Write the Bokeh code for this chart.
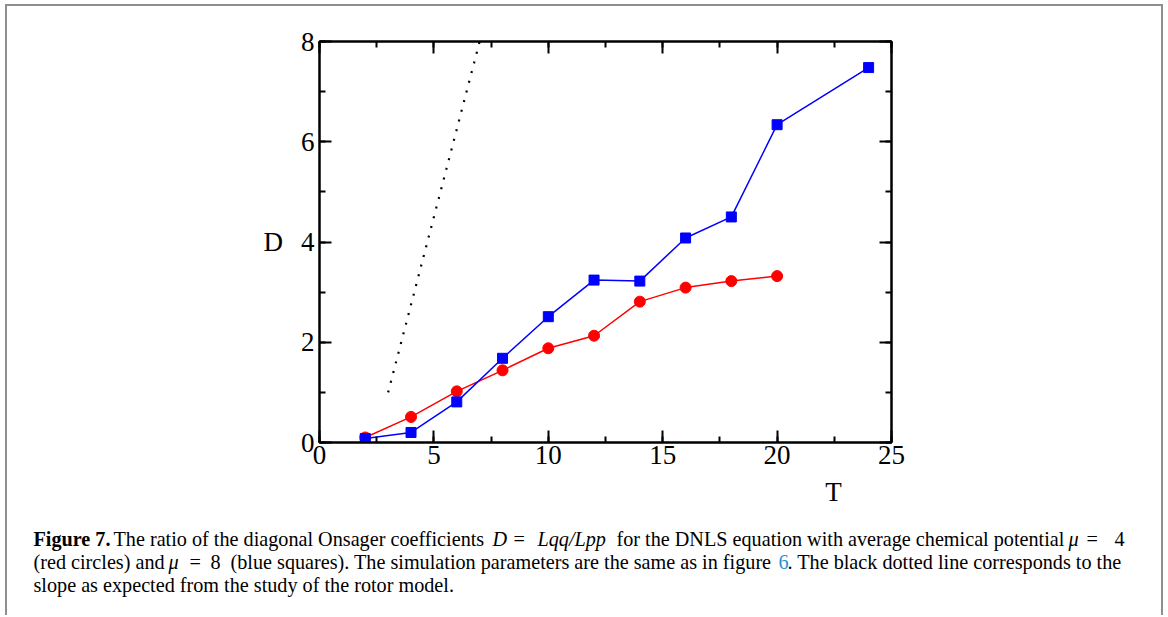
from bokeh.plotting import figure
from bokeh.layouts import column
from bokeh.models import (Range1d, LinearAxis, SingleIntervalTicker,
                          CustomJSTickFormatter, ColumnDataSource)
from bokeh.core.properties import value
from bokeh.embed import file_html
from bokeh.resources import INLINE

# ---------------- data ----------------
T_mu4 = [2, 4, 6, 8, 10, 12, 14, 16, 18, 20]
D_mu4 = [0.10, 0.51, 1.02, 1.44, 1.88, 2.13, 2.81, 3.09, 3.22, 3.32]

T_mu8 = [2, 4, 6, 8, 10, 12, 14, 16, 18, 20, 24]
D_mu8 = [0.08, 0.20, 0.81, 1.68, 2.51, 3.24, 3.22, 4.08, 4.50, 6.34, 7.48]

rotor_T = [3, 7]
rotor_D = [1, 8]

x_tick_step = 5
y_tick_step = 2

# ---------------- layout constants (page pixels) ----------------
PAGE_X0, PAGE_Y0 = 7, 6          # content origin inside the grey frame
W = 1154
ML, MR, MT, MB = 312, 270, 35, 35
FH = 401
H1 = MT + FH + MB
H2 = 138
CAP_DY = 7                       # vertical correction for the caption panel
SERIF = "Liberation Serif"
FRAME_GREY = "#8f8f8f"

# ---------------- main plot ----------------
p = figure(width=W, height=H1, x_range=Range1d(0, 25), y_range=Range1d(0, 8),
           output_backend="svg", toolbar_location=None,
           min_border_left=ML, min_border_right=MR, min_border_top=MT, min_border_bottom=MB)
p.frame_align = False
p.grid.visible = False
p.outline_line_color = "black"
p.outline_line_width = 2
p.background_fill_color = "white"
p.border_fill_color = "white"

def style_axis(ax, step, labels=True):
    ax.ticker = SingleIntervalTicker(interval=step, num_minor_ticks=2)
    ax.major_tick_in = 12
    ax.major_tick_out = 0
    ax.minor_tick_in = 6
    ax.minor_tick_out = 0
    ax.major_tick_line_width = 2
    ax.minor_tick_line_width = 2
    ax.axis_line_width = 2
    ax.major_tick_line_color = "black"
    ax.minor_tick_line_color = "black"
    ax.axis_line_color = "black"
    ax.major_label_text_font = SERIF
    ax.major_label_text_font_size = "27px"
    ax.major_label_text_color = "black"
    if not labels:
        ax.formatter = CustomJSTickFormatter(code="return ''")

style_axis(p.xaxis[0], x_tick_step)
style_axis(p.yaxis[0], y_tick_step)
p.xaxis[0].major_label_standoff = 3
p.yaxis[0].major_label_standoff = 5

p.yaxis[0].axis_label = "D"
p.yaxis[0].axis_label_orientation = "horizontal"
p.yaxis[0].axis_label_text_font = SERIF
p.yaxis[0].axis_label_text_font_style = "normal"
p.yaxis[0].axis_label_text_font_size = "27px"
p.yaxis[0].axis_label_text_color = "black"
p.yaxis[0].axis_label_standoff = 15

top_ax = LinearAxis()
right_ax = LinearAxis()
style_axis(top_ax, x_tick_step, labels=False)
style_axis(right_ax, y_tick_step, labels=False)
p.add_layout(top_ax, "above")
p.add_layout(right_ax, "right")

p.line(rotor_T, rotor_D, line_color="black", line_width=2.2, line_dash="2 8")

p.line(T_mu4, D_mu4, line_color="#ff0000", line_width=1.5)
p.scatter(T_mu4, D_mu4, marker="circle", size=11, fill_color="#ff0000", line_color="#ff0000")

p.line(T_mu8, D_mu8, line_color="#0000ff", line_width=1.5)
p.scatter(T_mu8, D_mu8, marker="square", size=10, fill_color="#0000ff", line_color="#0000ff")

# ---------------- caption panel (page-pixel coordinates) ----------------
cap_top = PAGE_Y0 + H1 + CAP_DY
c = figure(width=W, height=H2,
           x_range=Range1d(PAGE_X0, PAGE_X0 + W), y_range=Range1d(cap_top + H2, cap_top),
           output_backend="svg", toolbar_location=None,
           x_axis_location=None, y_axis_location=None,
           min_border_left=0, min_border_right=0, min_border_top=0, min_border_bottom=0)
c.title = None
c.frame_align = False
c.grid.visible = False
c.outline_line_color = None
c.background_fill_color = "white"
c.border_fill_color = "white"

# x-axis title "T" (placed off-centre as in the original)
c.text(x=[833], y=[498], text=["T"], text_align="center", text_baseline="alphabetic",
       text_font=value(SERIF), text_font_size="27px", text_color="black")

caption = [
    # (text, style, color, page_x, page_baseline_y)
    ("Figure 7.", "bold", "black", 33, 545),
    ("The ratio of the diagonal Onsager coefficients", "normal", "black", 113, 545),
    ("D", "italic", "black", 492, 545),
    ("=", "normal", "black", 513, 545),
    ("Lqq/Lpp", "italic", "black", 537, 545),
    ("for the DNLS equation with average chemical potential", "normal", "black", 616, 545),
    ("\u03bc", "italic", "black", 1068, 545),
    ("=", "normal", "black", 1086, 545),
    ("4", "normal", "black", 1114, 545),
    ("(red circles) and", "normal", "black", 33, 568),
    ("\u03bc", "italic", "black", 168, 568),
    ("=", "normal", "black", 189, 568),
    ("8", "normal", "black", 210, 568),
    ("(blue squares). The simulation parameters are the same as in figure", "normal", "black", 230, 568),
    ("6", "normal", "#2b8fd1", 778, 568),
    (". The black dotted line corresponds to the", "normal", "black", 787, 568),
    ("slope as expected from the study of the rotor model.", "normal", "black", 33, 591),
]
src = ColumnDataSource(dict(
    text=[r[0] for r in caption],
    style=[r[1] for r in caption],
    color=[r[2] for r in caption],
    x=[r[3] for r in caption],
    y=[r[4] for r in caption],
))
c.text(x="x", y="y", text="text", source=src, text_align="left", text_baseline="alphabetic",
       text_font=value(SERIF), text_font_size="20.2px", text_font_style="style", text_color="color")

layout = column(p, c, spacing=0)
layout.styles = {
    "border-top": f"2px solid {FRAME_GREY}",
    "border-left": f"2px solid {FRAME_GREY}",
    "border-right": f"2px solid {FRAME_GREY}",
    "margin-left": "5px",
    "margin-top": "4px",
}

open("out.html", "w").write(file_html(layout, INLINE))
